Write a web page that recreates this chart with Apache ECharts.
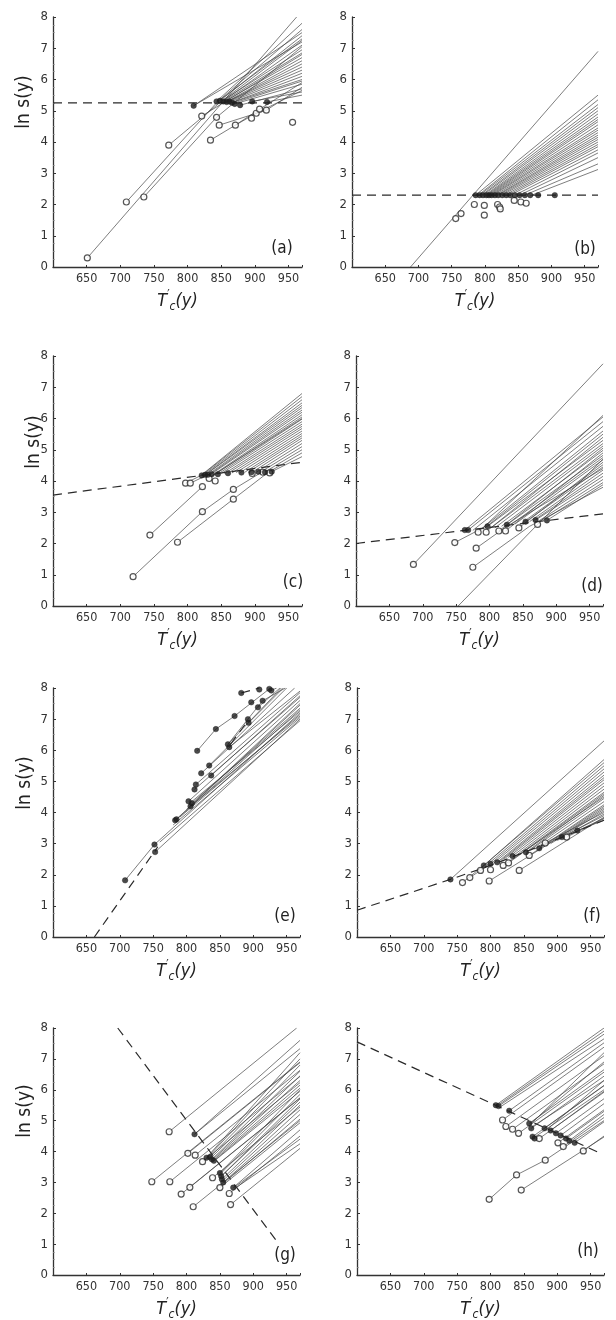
<!DOCTYPE html>
<html><head><meta charset="utf-8">
<script src="https://cdn.jsdelivr.net/npm/echarts@6/dist/echarts.min.js"></script>
<style>html,body{margin:0;padding:0;background:#fff}#c{width:616px;height:1320px}</style>
</head><body><div id="c"></div>
<script>
// ---------- tick labels ----------
const xTicks = [650, 700, 750, 800, 850, 900, 950];
const yTicks = [0, 1, 2, 3, 4, 5, 6, 7, 8];
const panelNames = ['(a)','(b)','(c)','(d)','(e)','(f)','(g)','(h)'];

// ---------- panel (a) ----------
const dashA = [[600,5.25],[970,5.25]];
const openA = [[651,0.29],[709,2.08],[735,2.24],[772,3.9],[821,4.83],[843,4.79],[847,4.54],[834,4.06],[871,4.54],[895,4.76],[902,4.92],[907,5.05],[917,5.02],[956,4.63]];
const filledA = [[809,5.16],[843,5.3],[848,5.32],[853,5.3],[858,5.28],[862,5.3],[866,5.26],[870,5.22],[878,5.18],[896,5.3],[918,5.28]];
const pathsA = [
 [[651,0.29],[962,8.0]],
 [[709,2.08],[845,5.3],[970,7.3]],
 [[735,2.24],[843,4.79],[970,7.05]],
 [[772,3.9],[850,5.3],[970,6.95]],
 [[809,5.16],[970,7.5]],
 [[821,4.83],[970,6.8]],
 [[834,4.06],[871,4.54],[902,4.92],[970,5.65]],
 [[847,4.54],[917,5.02],[970,5.75]],
 [[871,4.54],[907,5.05],[970,5.9]],
 [[843,5.3],[970,7.8]],[[845,5.3],[970,7.6]],[[848,5.32],[970,7.4]],[[850,5.3],[970,7.25]],
 [[852,5.3],[970,7.1]],[[853,5.3],[970,6.85]],[[855,5.3],[970,6.7]],[[857,5.28],[970,6.6]],
 [[858,5.28],[970,6.5]],[[860,5.3],[970,6.4]],[[862,5.3],[970,6.3]],[[863,5.28],[970,6.2]],
 [[865,5.26],[970,6.1]],[[866,5.26],[970,6.0]],[[868,5.24],[970,5.95]],[[870,5.22],[970,5.85]],
 [[878,5.18],[970,5.7]],[[896,5.3],[970,5.6]],[[918,5.28],[970,5.5]],[[809,5.16],[970,7.2]]
];

// ---------- panel (b) ----------
const dashB = [[600,2.3],[970,2.3]];
const openB = [[756,1.55],[764,1.71],[784,2.0],[799,1.97],[799,1.66],[819,2.0],[822,1.92],[823,1.86],[844,2.13],[854,2.08],[862,2.04]];
const filledB = [[786,2.3],[792,2.3],[797,2.3],[802,2.3],[806,2.3],[810,2.3],[815,2.3],[820,2.3],[826,2.3],[832,2.3],[838,2.3],[845,2.3],[852,2.3],[860,2.3],[868,2.3],[880,2.3],[905,2.3]];
const pathsB = [
 [[688,0],[970,6.9]],
 [[786,2.3],[970,5.5]],[[790,2.3],[970,5.35]],[[792,2.3],[970,5.2]],[[795,2.3],[970,5.1]],
 [[797,2.3],[970,5.0]],[[800,2.3],[970,4.9]],[[802,2.3],[970,4.8]],[[804,2.3],[970,4.72]],
 [[806,2.3],[970,4.65]],[[808,2.3],[970,4.55]],[[810,2.3],[970,4.45]],[[812,2.3],[970,4.38]],
 [[815,2.3],[970,4.3]],[[818,2.3],[970,4.22]],[[820,2.3],[970,4.15]],[[823,2.3],[970,4.08]],
 [[826,2.3],[970,4.0]],[[830,2.3],[970,3.92]],[[834,2.3],[970,3.85]],[[838,2.3],[970,3.75]],
 [[845,2.3],[970,3.65]],[[852,2.3],[970,3.5]],[[860,2.3],[970,3.3]],[[868,2.28],[970,3.12]]
];

// ---------- panel (c) ----------
const dashC = [[600,3.55],[970,4.6]];
const openC = [[719,0.94],[744,2.27],[785,2.04],[822,3.02],[868,3.42],[868,3.73],[822,3.82],[797,3.93],[804,3.93],[832,4.08],[841,4.0],[896,4.24],[912,4.28],[922,4.26]];
const filledC = [[821,4.18],[826,4.2],[830,4.2],[836,4.22],[845,4.22],[860,4.25],[880,4.27],[895,4.28],[905,4.3],[915,4.28],[925,4.3]];
const pathsC = [
 [[719,0.94],[822,3.02],[868,3.73],[910,4.28]],
 [[744,2.27],[822,3.82]],
 [[785,2.04],[868,3.42],[920,4.28]],
 [[797,3.93],[822,4.2]],[[804,3.93],[830,4.2]],
 [[820,4.18],[970,6.8]],[[822,4.2],[970,6.7]],[[824,4.2],[970,6.6]],[[826,4.2],[970,6.5]],
 [[828,4.22],[970,6.42]],[[830,4.2],[970,6.35]],[[832,4.2],[970,6.27]],[[835,4.22],[970,6.2]],
 [[838,4.2],[970,6.12]],[[841,4.22],[970,6.05]],[[845,4.22],[970,5.98]],[[850,4.24],[970,5.9]],
 [[855,4.24],[970,5.82]],[[860,4.25],[970,5.75]],[[866,4.26],[970,5.68]],[[872,4.27],[970,5.6]],
 [[878,4.27],[970,5.52]],[[885,4.28],[970,5.45]],[[890,4.28],[970,5.38]],[[896,4.28],[970,5.3]],
 [[902,4.28],[970,5.2]],[[908,4.28],[970,5.1]],[[914,4.28],[970,5.0]],[[920,4.28],[970,4.9]],
 [[925,4.3],[970,4.78]],[[832,4.1],[970,6.0]]
];

// ---------- panel (d) ----------
const dashD = [[600,2.0],[970,2.95]];
const openD = [[686,1.33],[748,2.03],[780,1.85],[775,1.24],[783,2.36],[795,2.36],[814,2.4],[824,2.4],[844,2.5],[872,2.61]];
const filledD = [[763,2.43],[768,2.43],[797,2.55],[826,2.6],[854,2.7],[869,2.75],[886,2.74]];
const pathsD = [
 [[686,1.33],[970,7.75]],
 [[753,0],[872,2.61],[970,4.7]],
 [[748,2.03],[790,2.5],[970,6.1]],
 [[780,1.85],[826,2.55],[970,4.4]],
 [[775,1.24],[860,2.55],[970,3.8]],
 [[763,2.43],[970,6.05]],[[768,2.43],[970,5.9]],[[775,2.42],[970,5.75]],[[783,2.38],[970,5.6]],
 [[790,2.45],[970,5.5]],[[795,2.38],[970,5.4]],[[797,2.55],[970,5.3]],[[802,2.5],[970,5.2]],
 [[808,2.5],[970,5.12]],[[814,2.4],[970,5.05]],[[818,2.55],[970,4.98]],[[824,2.4],[970,4.9]],
 [[826,2.6],[970,4.82]],[[832,2.6],[970,4.75]],[[838,2.62],[970,4.68]],[[844,2.5],[970,4.6]],
 [[848,2.65],[970,4.52]],[[854,2.7],[970,4.45]],[[860,2.7],[970,4.35]],[[865,2.72],[970,4.25]],
 [[869,2.75],[970,4.15]],[[875,2.74],[970,4.05]],[[880,2.74],[970,3.95]],[[886,2.74],[970,3.88]]
];

// ---------- panel (e) ----------
const dashE = [[662,0],[757,2.9]];
const dashE2 = [[866,6.2],[892,6.95]];
const dashE3 = [[882,7.84],[909,8.0]];
const openE = [];
const filledE = [[708,1.82],[752,2.97],[753,2.73],[783,3.75],[785,3.78],[803,4.36],[806,4.2],[808,4.3],[812,4.74],[814,4.9],[816,5.98],[822,5.26],[834,5.51],[837,5.19],[844,6.68],[862,6.19],[864,6.1],[872,7.1],[882,7.84],[892,7.0],[893,6.88],[897,7.54],[907,7.38],[909,7.95],[914,7.59],[924,7.97],[927,7.92]];
const pathsE = [
 [[708,1.82],[752,2.97]],
 [[816,5.98],[844,6.68],[872,7.1]],
 [[862,6.19],[892,7.0],[914,7.59]],
 [[872,7.1],[924,7.97]],
 [[752,2.97],[970,7.2]],[[753,2.73],[970,7.0]],[[760,3.05],[970,6.95]],[[780,3.6],[970,7.05]],
 [[783,3.75],[970,7.45]],[[785,3.78],[970,7.3]],[[790,3.85],[970,7.15]],[[800,4.1],[970,7.5]],
 [[803,4.36],[970,7.6]],[[805,4.3],[970,7.25]],[[806,4.2],[970,7.1]],[[808,4.3],[970,7.35]],
 [[812,4.74],[970,7.7]],[[814,4.9],[970,7.85]],[[822,5.26],[962,8.0]],[[834,5.51],[950,8.0]],
 [[837,5.19],[970,7.75]],[[862,6.19],[942,8.0]],[[864,6.1],[970,7.9]],[[893,6.88],[945,8.0]],
 [[907,7.38],[940,8.0]],[[914,7.59],[948,8.0]],[[927,7.92],[935,8.0]]
];

// ---------- panel (f) ----------
const dashF = [[600,0.86],[740,1.85],[800,2.3],[860,2.8],[930,3.4],[970,3.75]];
const openF = [[758,1.75],[769,1.91],[785,2.14],[798,1.8],[800,2.16],[819,2.3],[827,2.38],[843,2.14],[858,2.62],[882,3.02],[914,3.21]];
const filledF = [[740,1.85],[790,2.3],[800,2.35],[810,2.4],[833,2.6],[853,2.72],[873,2.85],[907,3.21],[930,3.42]];
const pathsF = [
 [[740,1.85],[970,6.3]],
 [[758,1.75],[790,2.3]],[[769,1.91],[800,2.35]],
 [[785,2.2],[970,5.7]],[[790,2.3],[970,5.6]],[[795,2.32],[970,5.5]],[[800,2.35],[970,5.4]],
 [[805,2.38],[970,5.3]],[[810,2.4],[970,5.2]],[[815,2.45],[970,5.12]],[[820,2.5],[970,5.05]],
 [[826,2.55],[970,4.95]],[[833,2.6],[970,4.85]],[[840,2.65],[970,4.75]],[[846,2.7],[970,4.65]],
 [[853,2.72],[970,4.55]],[[860,2.8],[970,4.45]],[[866,2.82],[970,4.35]],[[873,2.85],[970,4.25]],
 [[880,2.9],[970,4.15]],[[890,3.0],[970,4.05]],[[900,3.1],[970,3.95]],[[907,3.21],[970,3.9]],
 [[920,3.3],[970,3.82]],[[930,3.42],[970,3.75]],
 [[798,1.8],[970,4.1]],[[843,2.14],[970,3.85]],[[819,2.3],[970,4.5]],[[827,2.38],[970,4.6]],
 [[858,2.62],[970,4.2]],[[882,3.02],[970,4.0]],[[914,3.21],[970,3.8]]
];

// ---------- panel (g) ----------
const dashG = [[697,8.0],[935,1.1]];
const openG = [[748,3.02],[774,4.64],[775,3.02],[792,2.62],[802,3.94],[805,2.84],[810,2.21],[813,3.88],[824,3.67],[839,3.15],[850,2.83],[864,2.64],[866,2.28]];
const filledG = [[812,4.56],[830,3.8],[835,3.82],[838,3.75],[841,3.7],[850,3.3],[852,3.2],[853,3.1],[855,3.0],[870,2.83]];
const pathsG = [
 [[748,3.02],[970,6.9]],[[774,4.64],[965,8.0]],[[775,3.02],[970,6.43]],[[792,2.62],[970,5.74]],
 [[802,3.94],[970,6.88]],[[805,2.84],[970,5.73]],[[810,2.21],[970,5.0]],[[813,3.88],[970,6.63]],
 [[824,3.67],[970,6.23]],[[839,3.15],[970,5.44]],[[850,2.83],[970,4.93]],[[864,2.64],[970,4.5]],
 [[866,2.28],[970,4.1]],[[812,4.56],[970,7.33]],[[812,4.56],[970,7.6]],
 [[830,3.8],[970,7.2]],[[832,3.82],[970,7.0]],[[835,3.82],[970,6.8]],[[836,3.78],[970,6.6]],
 [[838,3.75],[970,6.45]],[[839,3.74],[970,6.3]],[[840,3.72],[970,6.15]],[[841,3.7],[970,6.05]],
 [[842,3.7],[970,5.95]],
 [[850,3.3],[970,6.0]],[[851,3.28],[970,5.85]],[[852,3.2],[970,5.7]],[[852,3.2],[970,5.6]],
 [[853,3.1],[970,5.5]],[[854,3.05],[970,5.35]],[[855,3.0],[970,5.2]],[[856,2.98],[970,5.05]],
 [[870,2.83],[970,4.7]],[[871,2.83],[970,4.4]],[[872,2.8],[970,4.25]]
];

// ---------- panel (h) ----------
const dashH = [[600,7.55],[965,3.94]];
const openH = [[818,5.02],[823,4.81],[833,4.72],[842,4.59],[873,4.42],[901,4.28],[909,4.16],[939,4.02],[882,3.72],[839,3.24],[846,2.75],[798,2.45]];
const filledH = [[808,5.5],[812,5.47],[828,5.32],[858,4.91],[861,4.75],[863,4.48],[866,4.42],[881,4.75],[890,4.68],[898,4.59],[905,4.52],[913,4.42],[918,4.35],[926,4.28]];
const pathsH = [
 [[808,5.5],[970,8.0]],[[810,5.48],[970,7.9]],[[812,5.47],[970,7.8]],[[815,5.45],[970,7.65]],
 [[828,5.32],[970,7.52]],[[818,5.02],[970,7.38]],[[823,4.81],[970,7.1]],[[833,4.72],[970,6.84]],
 [[842,4.59],[970,6.57]],[[858,4.91],[970,6.65]],[[859,4.9],[970,6.9]],[[860,4.88],[970,7.2]],
 [[861,4.75],[970,6.44]],[[862,4.8],[970,6.3]],[[863,4.48],[970,6.14]],[[865,4.45],[970,6.0]],
 [[873,4.42],[970,5.92]],[[881,4.75],[970,6.13]],[[885,4.72],[970,6.3]],[[890,4.68],[970,5.95]],
 [[898,4.59],[970,5.71]],[[901,4.28],[970,5.35]],[[905,4.52],[970,5.55]],[[909,4.16],[970,5.1]],
 [[913,4.42],[970,5.3]],[[918,4.35],[970,5.2]],[[926,4.28],[970,4.96]],[[939,4.02],[970,4.5]],
 [[798,2.45],[839,3.24],[882,3.72],[970,5.0]],[[846,2.75],[970,4.47]]
];

// ---------- assemble ----------
const panels = [
 {dash:[dashA], open:openA, filled:filledA, paths:pathsA},
 {dash:[dashB], open:openB, filled:filledB, paths:pathsB},
 {dash:[dashC], open:openC, filled:filledC, paths:pathsC},
 {dash:[dashD], open:openD, filled:filledD, paths:pathsD},
 {dash:[dashE,dashE2,dashE3], open:openE, filled:filledE, paths:pathsE},
 {dash:[dashF], open:openF, filled:filledF, paths:pathsF},
 {dash:[dashG], open:openG, filled:filledG, paths:pathsG},
 {dash:[dashH], open:openH, filled:filledH, paths:pathsH}
];
const layout = [
 {left:53, top:17, width:249, height:250},
 {left:352, top:17, width:246, height:250},
 {left:53, top:356, width:249, height:250},
 {left:356, top:356, width:247, height:250},
 {left:53, top:688, width:247, height:249},
 {left:357, top:688, width:247, height:249},
 {left:53, top:1028, width:247, height:247},
 {left:357, top:1028, width:247, height:247}
];
const yNamePos = [[24,102],null,[34,442],null,[25,783],null,[25,1111],null];
const labelPos = [[282,249],[585,250],[293,583],[592,587],[285,917],[592,917],[285,1256],[588,1252]];

const FONT = "'Liberation Sans Narrow','DejaVu Sans Condensed','Liberation Sans',Arial,sans-serif";
const AX = '#333';

const grids = [], xAxes = [], yAxes = [], series = [], graphics = [];
panels.forEach((p, i) => {
  const l = layout[i];
  grids.push({left:l.left, top:l.top, width:l.width, height:l.height, containLabel:false, outerBoundsMode:'none'});
  xAxes.push({
    gridIndex:i, type:'value', min:600, max:970, interval:50,
    axisLine:{show:true, onZero:false, lineStyle:{color:AX, width:1.3}},
    axisTick:{show:true, inside:true, length:2, lineStyle:{color:AX}},
    splitLine:{show:false},
    axisLabel:{fontFamily:FONT, fontSize:12.5, color:'#333', margin:5,
      formatter: v => xTicks.indexOf(v) >= 0 ? String(v) : ''},
    name:'{t|T}{p|′}{s|c}{t|(y)}', nameLocation:'middle', nameGap:22,
    nameTextStyle:{rich:{
      t:{fontFamily:FONT, fontStyle:'italic', fontSize:18, color:'#222', lineHeight:24, verticalAlign:'middle'},
      p:{fontFamily:FONT, fontSize:12, color:'#222', lineHeight:24, verticalAlign:'top'},
      s:{fontFamily:FONT, fontStyle:'italic', fontSize:12, color:'#222', lineHeight:24, verticalAlign:'bottom'}
    }}
  });
  yAxes.push({
    gridIndex:i, type:'value', min:0, max:8, interval:1,
    axisLine:{show:true, onZero:false, lineStyle:{color:AX, width:1.3}},
    axisTick:{show:true, inside:true, length:3, lineStyle:{color:AX}},
    minorTick:{show:true, splitNumber:4, length:1.5, lineStyle:{color:'#777'}},
    splitLine:{show:false},
    axisLabel:{fontFamily:FONT, fontSize:13, color:'#333', margin:5,
      formatter: v => yTicks.indexOf(v) >= 0 ? String(v) : ''}
  });
  series.push({
    type:'lines', coordinateSystem:'cartesian2d', xAxisIndex:i, yAxisIndex:i,
    polyline:true, silent:true, z:2,
    data: p.paths.map(c => ({coords:c})),
    lineStyle:{color:'#404040', width:0.75, opacity:0.9}
  });
  p.dash.forEach(d => series.push({
    type:'line', xAxisIndex:i, yAxisIndex:i, data:d, symbol:'none', silent:true, z:3,
    lineStyle:{color:'#2a2a2a', width:1.2, type:[9,6]}
  }));
  series.push({
    type:'scatter', xAxisIndex:i, yAxisIndex:i, data:p.open, symbol:'circle', symbolSize:6, z:4, silent:true,
    itemStyle:{color:'#fff', borderColor:'#2a2a2a', borderWidth:1.2}
  });
  series.push({
    type:'scatter', xAxisIndex:i, yAxisIndex:i, data:p.filled, symbol:'circle', symbolSize:5.5, z:5, silent:true,
    itemStyle:{color:'#1e1e1e', borderColor:'#1e1e1e', borderWidth:0.5}
  });
  if (yNamePos[i]) {
    graphics.push({type:'text', x:yNamePos[i][0], y:yNamePos[i][1], rotation:Math.PI/2,
      style:{text:'ln s(y)', fontFamily:FONT, fontSize:19, fill:'#222', align:'center', verticalAlign:'middle', textAlign:'center', textVerticalAlign:'middle'}});
  }
  graphics.push({type:'text', x:labelPos[i][0], y:labelPos[i][1],
    style:{text:panelNames[i], fontFamily:FONT, fontSize:17, fill:'#222', align:'center', verticalAlign:'middle', textAlign:'center', textVerticalAlign:'middle'}});
});

const chart = echarts.init(document.getElementById('c'), null, {renderer:'canvas'});
chart.setOption({
  animation:false, backgroundColor:'#fff',
  grid:grids, xAxis:xAxes, yAxis:yAxes, series:series, graphic:graphics
});
</script></body></html>
